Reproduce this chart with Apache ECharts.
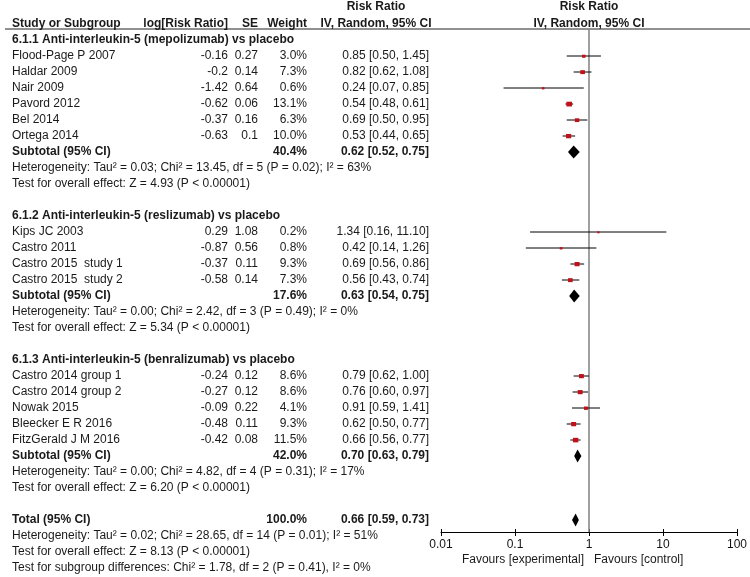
<!DOCTYPE html>
<html>
<head>
<meta charset="utf-8">
<script src="https://cdn.jsdelivr.net/npm/echarts@6/dist/echarts.min.js"></script>
<style>html,body{margin:0;padding:0;background:#fff}#c{width:750px;height:577px}</style>
</head>
<body>
<div id="c"></div>
<script>
// ---------- DATA ----------
const groupTitles = [
  '6.1.1 Anti-interleukin-5 (mepolizumab) vs placebo',
  '6.1.2 Anti-interleukin-5 (reslizumab) vs placebo',
  '6.1.3 Anti-interleukin-5 (benralizumab) vs placebo'
];
const studyNames = [
  'Flood-Page P 2007','Haldar 2009','Nair 2009','Pavord 2012','Bel 2014','Ortega 2014',
  'Kips JC 2003','Castro 2011','Castro 2015  study 1','Castro 2015  study 2',
  'Castro 2014 group 1','Castro 2014 group 2','Nowak 2015','Bleecker E R 2016','FitzGerald J M 2016'
];
const studyGroup = [0,0,0,0,0,0,1,1,1,1,2,2,2,2,2];
const logRR   = [-0.16,-0.2,-1.42,-0.62,-0.37,-0.63, 0.29,-0.87,-0.37,-0.58, -0.24,-0.27,-0.09,-0.48,-0.42];
const seVals  = [0.27,0.14,0.64,0.06,0.16,0.1, 1.08,0.56,0.11,0.14, 0.12,0.12,0.22,0.11,0.08];
const weights = [3.0,7.3,0.6,13.1,6.3,10.0, 0.2,0.8,9.3,7.3, 8.6,8.6,4.1,9.3,11.5];
const rrVals  = [0.85,0.82,0.24,0.54,0.69,0.53, 1.34,0.42,0.69,0.56, 0.79,0.76,0.91,0.62,0.66];
const ciLow   = [0.50,0.62,0.07,0.48,0.50,0.44, 0.16,0.14,0.56,0.43, 0.62,0.60,0.59,0.50,0.56];
const ciHigh  = [1.45,1.08,0.85,0.61,0.95,0.65, 11.10,1.26,0.86,0.74, 1.00,0.97,1.41,0.77,0.77];

const subWeight = [40.4, 17.6, 42.0];
const subRR     = [0.62, 0.63, 0.70];
const subLow    = [0.52, 0.54, 0.63];
const subHigh   = [0.75, 0.75, 0.79];
const hetTexts = [
  'Heterogeneity: Tau² = 0.03; Chi² = 13.45, df = 5 (P = 0.02); I² = 63%',
  'Heterogeneity: Tau² = 0.00; Chi² = 2.42, df = 3 (P = 0.49); I² = 0%',
  'Heterogeneity: Tau² = 0.00; Chi² = 4.82, df = 4 (P = 0.31); I² = 17%'
];
const effectTexts = [
  'Test for overall effect: Z = 4.93 (P < 0.00001)',
  'Test for overall effect: Z = 5.34 (P < 0.00001)',
  'Test for overall effect: Z = 6.20 (P < 0.00001)'
];
const totalWeight = 100.0, totalRR = 0.66, totalLow = 0.59, totalHigh = 0.73;
const totalTexts = [
  'Heterogeneity: Tau² = 0.02; Chi² = 28.65, df = 14 (P = 0.01); I² = 51%',
  'Test for overall effect: Z = 8.13 (P < 0.00001)',
  'Test for subgroup differences: Chi² = 1.78, df = 2 (P = 0.41), I² = 0%'
];
const xTickLabels = ['0.01','0.1','1','10','100'];
const favourLabels = ['Favours [experimental]', 'Favours [control]'];

// ---------- LAYOUT ----------
const ROW = 16, Y0 = 40;             // pixel of row 0, row height
const yMin = -Y0 / ROW;              // grid top at pixel 0
const tableMax = yMin + 576 / ROW;
const axisPx = 532;
const plotMax = yMin + axisPx / ROW;
const COL = {name: 12, logrr: 228, se: 258, weight: 307, ci: 429, ciHead: 376, plotHead: 589};
const FONT = '"Liberation Sans", Arial, Helvetica, sans-serif';
const TXT = '#1a1a1a';

const cells = [];
function cell(x, r, text, align, bold) { cells.push({x, r, text, align, bold}); }
const fmtCI = (m, l, h) => m.toFixed(2) + ' [' + l.toFixed(2) + ', ' + h.toFixed(2) + ']';

// header
const rH1 = (7 - Y0) / ROW, rH2 = (24 - Y0) / ROW, rLine = (29 - Y0) / ROW;
cell(COL.ciHead, rH1, 'Risk Ratio', 'center', true);
cell(COL.plotHead, rH1, 'Risk Ratio', 'center', true);
cell(COL.name, rH2, 'Study or Subgroup', 'left', true);
cell(COL.logrr, rH2, 'log[Risk Ratio]', 'right', true);
cell(COL.se, rH2, 'SE', 'right', true);
cell(COL.weight, rH2, 'Weight', 'right', true);
cell(COL.ciHead, rH2, 'IV, Random, 95% CI', 'center', true);
cell(COL.plotHead, rH2, 'IV, Random, 95% CI', 'center', true);

const studyMarks = [];   // [lo, hi, rr, row, weight]
const diamonds = [];     // [lo, hi, rr, row]
let r = 0;
for (let g = 0; g < groupTitles.length; g++) {
  cell(COL.name, r, groupTitles[g], 'left', true); r++;
  for (let i = 0; i < studyNames.length; i++) {
    if (studyGroup[i] !== g) continue;
    cell(COL.name, r, studyNames[i], 'left', false);
    cell(COL.logrr, r, String(logRR[i]), 'right', false);
    cell(COL.se, r, String(seVals[i]), 'right', false);
    cell(COL.weight, r, weights[i].toFixed(1) + '%', 'right', false);
    cell(COL.ci, r, fmtCI(rrVals[i], ciLow[i], ciHigh[i]), 'right', false);
    studyMarks.push([ciLow[i], ciHigh[i], rrVals[i], r, weights[i]]);
    r++;
  }
  cell(COL.name, r, 'Subtotal (95% CI)', 'left', true);
  cell(COL.weight, r, subWeight[g].toFixed(1) + '%', 'right', true);
  cell(COL.ci, r, fmtCI(subRR[g], subLow[g], subHigh[g]), 'right', true);
  diamonds.push([subLow[g], subHigh[g], subRR[g], r]);
  r++;
  cell(COL.name, r, hetTexts[g], 'left', false); r++;
  cell(COL.name, r, effectTexts[g], 'left', false); r++;
  r++; // blank
}
cell(COL.name, r, 'Total (95% CI)', 'left', true);
cell(COL.weight, r, totalWeight.toFixed(1) + '%', 'right', true);
cell(COL.ci, r, fmtCI(totalRR, totalLow, totalHigh), 'right', true);
diamonds.push([totalLow, totalHigh, totalRR, r]);
r++;
totalTexts.forEach(t => { cell(COL.name, r, t, 'left', false); r++; });
const favourRow = (560 - Y0) / ROW;

function txt(x, y, text, align, bold) {
  return {
    type: 'text',
    style: {
      x, y, text,
      font: (bold ? 'bold ' : '') + '12px ' + FONT,
      fill: TXT,
      align: align, textAlign: align,
      verticalAlign: 'middle', textVerticalAlign: 'middle'
    }
  };
}

const chart = echarts.init(document.getElementById('c'), null, {renderer: 'canvas'});
chart.setOption({
  animation: false,
  backgroundColor: '#fff',
  grid: [
    {left: 0, top: 0, width: 750, height: 576, containLabel: false},
    {left: 441, top: 0, width: 296, height: axisPx, containLabel: false}
  ],
  xAxis: [
    {gridIndex: 0, type: 'value', min: 0, max: 750, show: false},
    {gridIndex: 1, type: 'log', logBase: 10, min: 0.01, max: 100, interval: 1, position: 'bottom',
     splitLine: {show: false},
     axisLine: {show: true, onZero: false, lineStyle: {color: '#000', width: 1}},
     axisTick: {show: true, length: 4, lineStyle: {color: '#000', width: 1}},
     axisLabel: {show: true, margin: 7, color: '#111', fontSize: 12, fontFamily: FONT,
       formatter: v => xTickLabels[Math.round(Math.log10(v)) + 2]}},
    {gridIndex: 1, type: 'log', logBase: 10, min: 0.01, max: 100, interval: 1, position: 'bottom',
     offset: 0,
     splitLine: {show: false}, axisLine: {show: false, onZero: false},
     axisTick: {show: true, inside: true, length: 3, lineStyle: {color: '#000', width: 1}},
     axisLabel: {show: false}}
  ],
  yAxis: [
    {gridIndex: 0, type: 'value', inverse: true, min: yMin, max: tableMax, show: false},
    {gridIndex: 1, type: 'value', inverse: true, min: yMin, max: plotMax, show: false}
  ],
  series: [
    { // table text + header rule
      type: 'custom', xAxisIndex: 0, yAxisIndex: 0, silent: true, clip: false,
      data: cells.map(c => [c.x, c.r]),
      renderItem: function (params, api) {
        const c = cells[params.dataIndex];
        const p = api.coord([c.x, c.r]);
        const el = txt(p[0], p[1], c.text, c.align, c.bold);
        if (params.dataIndex === 0) {
          const a = api.coord([5, rLine]), b = api.coord([750, rLine]);
          return {type: 'group', children: [
            {type: 'line', shape: {x1: a[0], y1: a[1], x2: b[0], y2: b[1]},
             style: {stroke: '#222', lineWidth: 1}},
            el]};
        }
        return el;
      }
    },
    { // reference line at RR = 1
      type: 'custom', xAxisIndex: 1, yAxisIndex: 1, silent: true, clip: false,
      data: [[1, rLine, plotMax]],
      encode: {x: 0, y: [1, 2]},
      renderItem: function (params, api) {
        const a = api.coord([api.value(0), api.value(1)]);
        const b = api.coord([api.value(0), api.value(2)]);
        return {type: 'line', shape: {x1: a[0], y1: a[1], x2: b[0], y2: b[1]},
                style: {stroke: '#808080', lineWidth: 1.5}};
      }
    },
    { // study CIs and squares
      type: 'custom', xAxisIndex: 1, yAxisIndex: 1, silent: true, clip: false,
      data: studyMarks,
      encode: {x: [0, 1, 2], y: 3},
      renderItem: function (params, api) {
        const lo = api.coord([api.value(0), api.value(3)]);
        const hi = api.coord([api.value(1), api.value(3)]);
        const m = api.coord([api.value(2), api.value(3)]);
        const s = 1.8 + 1.05 * Math.sqrt(api.value(4));
        return {type: 'group', children: [
          {type: 'line', shape: {x1: lo[0], y1: lo[1], x2: hi[0], y2: hi[1]},
           style: {stroke: '#000', lineWidth: 1}},
          {type: 'rect', shape: {x: m[0] - s / 2, y: m[1] - s / 2 + 0.5, width: s, height: s * 0.85},
           style: {fill: '#c0101a'}}
        ]};
      }
    },
    { // diamonds
      type: 'custom', xAxisIndex: 1, yAxisIndex: 1, silent: true, clip: false,
      data: diamonds,
      encode: {x: [0, 1, 2], y: 3},
      renderItem: function (params, api) {
        const lo = api.coord([api.value(0), api.value(3)]);
        const hi = api.coord([api.value(1), api.value(3)]);
        const m = api.coord([api.value(2), api.value(3)]);
        const h = 6.5;
        return {type: 'polygon', shape: {points: [[lo[0], lo[1]], [m[0], m[1] - h], [hi[0], hi[1]], [m[0], m[1] + h]]},
                style: {fill: '#000'}};
      }
    },
    { // favours labels
      type: 'custom', xAxisIndex: 1, yAxisIndex: 1, silent: true, clip: false,
      data: [[1, favourRow]],
      renderItem: function (params, api) {
        const p = api.coord([api.value(0), api.value(1)]);
        return {type: 'group', children: [
          txt(p[0] - 5, p[1], favourLabels[0], 'right', false),
          txt(p[0] + 5, p[1], favourLabels[1], 'left', false)
        ]};
      }
    }
  ]
});
</script>
</body>
</html>
